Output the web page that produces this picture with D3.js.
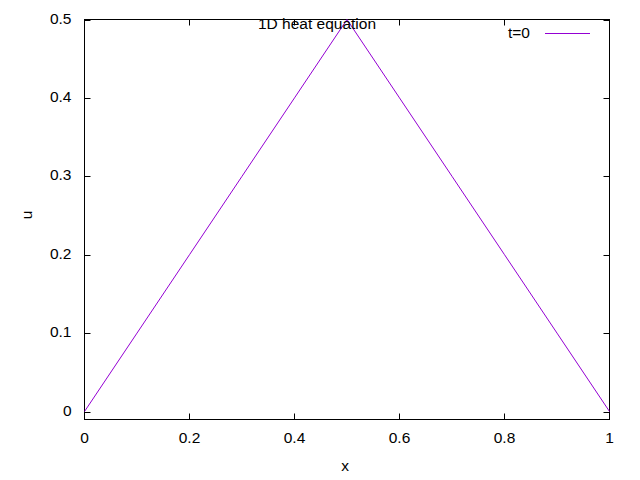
<!DOCTYPE html>
<meta charset="utf-8">
<script src="https://d3js.org/d3.v7.min.js"></script>
<style>
  body { margin: 0; background: #fff; }
  text { font-family: "Liberation Sans", Arial, sans-serif; font-size: 15.5px; fill: #000; }
</style>
<body>
<svg id="chart" width="640" height="480"></svg>
<script>
// data: initial condition t=0
var xs = [0, 0.1, 0.2, 0.3, 0.4, 0.5, 0.6, 0.7, 0.8, 0.9, 1];
var us = [0, 0.1, 0.2, 0.3, 0.4, 0.5, 0.4, 0.3, 0.2, 0.1, 0];
var xTicks = [0, 0.2, 0.4, 0.6, 0.8, 1];
var yTicks = [0, 0.1, 0.2, 0.3, 0.4, 0.5];

var svg = d3.select("#chart");
var pLeft = 84.5, pRight = 609.5, pTop = 19.5, pBottom = 419.5;

var x = d3.scaleLinear().domain([0, 1]).range([pLeft, pRight]);
var y = d3.scaleLinear().domain([-0.0102, 0.5]).range([pBottom, pTop]);

var tk = 6;
// ticks, all four sides, inward
yTicks.forEach(function(v) {
  var yy = Math.round(y(v)) + 0.5;
  svg.append("line").attr("x1", pLeft).attr("x2", pLeft + tk).attr("y1", yy).attr("y2", yy).attr("stroke", "#000");
  svg.append("line").attr("x1", pRight).attr("x2", pRight - tk).attr("y1", yy).attr("y2", yy).attr("stroke", "#000");
  svg.append("text").attr("x", pLeft - 13).attr("y", yy + 3).attr("text-anchor", "end").text(v === 0 ? "0" : v);
});
xTicks.forEach(function(v) {
  var xx = Math.round(x(v) - 0.5) + 0.5;
  svg.append("line").attr("x1", xx).attr("x2", xx).attr("y1", pBottom).attr("y2", pBottom - tk).attr("stroke", "#000");
  svg.append("line").attr("x1", xx).attr("x2", xx).attr("y1", pTop).attr("y2", pTop + tk).attr("stroke", "#000");
  svg.append("text").attr("x", xx).attr("y", pBottom + 23).attr("text-anchor", "middle").text(v);
});

svg.append("rect").attr("x", pLeft).attr("y", pTop).attr("width", pRight - pLeft).attr("height", pBottom - pTop)
  .attr("fill", "none").attr("stroke", "#000");

var data = xs.map(function(d, i) { return {x: d, u: us[i]}; });
svg.append("path").datum(data)
  .attr("fill", "none").attr("stroke", "#9400d3").attr("stroke-width", 1)
  .attr("d", d3.line().x(function(d) { return x(d.x); }).y(function(d) { return y(d.u); }));

// title, axis labels
svg.append("text").attr("x", 317).attr("y", 29).attr("text-anchor", "middle").text("1D heat equation");
svg.append("text").attr("x", 345).attr("y", 471).attr("text-anchor", "middle").text("x");
svg.append("text").attr("transform", "translate(32,215) rotate(-90)").attr("text-anchor", "middle").text("u");

// key
svg.append("text").attr("x", 530).attr("y", 38).attr("text-anchor", "end").text("t=0");
svg.append("line").attr("x1", 545).attr("x2", 590).attr("y1", 33.5).attr("y2", 33.5).attr("stroke", "#9400d3");
</script>
</body>
